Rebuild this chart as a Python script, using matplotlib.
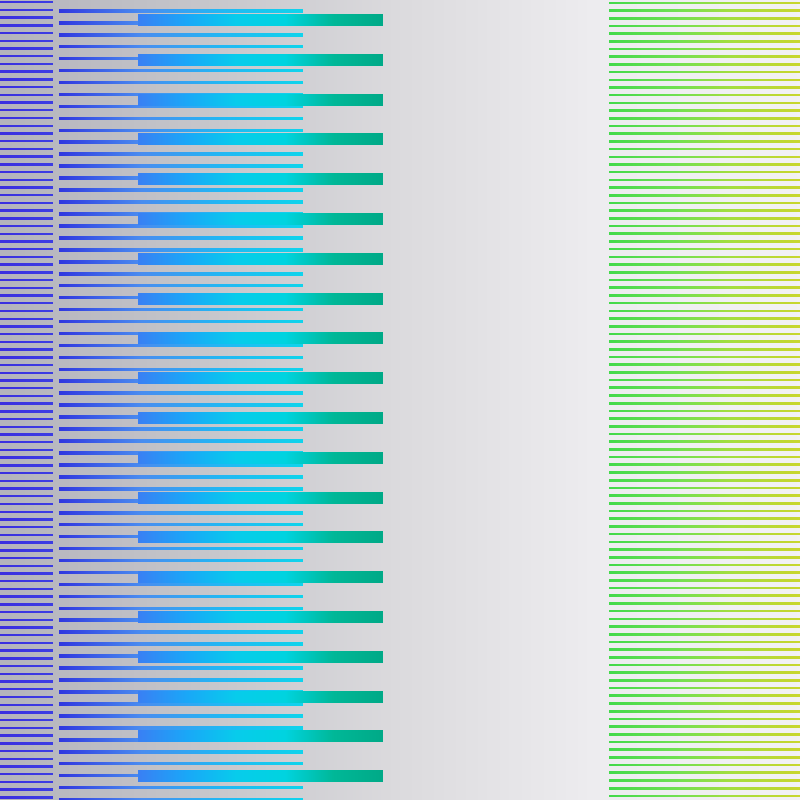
import numpy as np
import matplotlib
matplotlib.use('Agg')
import matplotlib.pyplot as plt
from matplotlib.colors import LinearSegmentedColormap
from matplotlib.path import Path
from matplotlib.patches import PathPatch

# ── layer definitions (pixel space, y down) ──────────────────────────────────
# thin dark-blue ticks on the far left
left_x0, left_x1 = 0, 53
left_y = list(np.arange(1.0, 800, 7.72))
left_h = 2.4
left_colors = ['#3a2fe0', '#3d3de4']

# medium blue→cyan bars
mid_x0, mid_x1 = 59, 303
mid_y = list(np.arange(9.0, 800, 11.95))
mid_h = 3.6
mid_colors = ['#3038e0', '#4a8cf0', '#22b8f4', '#10d4ec']

# thick bars overlapping to the right
wide_x0, wide_x1 = 138, 383
wide_y = list(np.arange(14.0, 790, 39.8))
wide_h = 12
wide_colors = ['#3a80f4', '#1aa8f8', '#08ccec', '#00d4e0', '#00b898', '#00aa88']

# green→yellow lines on the right
right_x0, right_x1 = 609, 800
right_y = list(np.arange(1.5, 800, 7.7))
right_h = 2.6
right_colors = ['#30d838', '#60e040', '#a0dc28', '#c4d418']

bg_colors = ['#b4b4bc', '#c6c6cb', '#dcdbde', '#eeedf0', '#f3f2f5']


def rect_path(x0, x1, ys, h):
    verts, codes = [], []
    for y in ys:
        verts += [(x0, y), (x1, y), (x1, y + h), (x0, y + h), (x0, y)]
        codes += [Path.MOVETO, Path.LINETO, Path.LINETO, Path.LINETO, Path.CLOSEPOLY]
    return Path(verts, codes)


def gradient_layer(ax, x0, x1, ys, h, colors, alpha=1.0):
    cmap = LinearSegmentedColormap.from_list('g', colors)
    grad = np.linspace(0, 1, 256).reshape(1, -1)
    im = ax.imshow(grad, cmap=cmap, extent=(x0, x1, 800, 0), aspect='auto',
                   interpolation='bilinear', alpha=alpha, zorder=2)
    patch = PathPatch(rect_path(x0, x1, ys, h), transform=ax.transData,
                      facecolor='none', edgecolor='none')
    ax.add_patch(patch)
    im.set_clip_path(patch)


fig = plt.figure(figsize=(8, 8), dpi=100)
ax = fig.add_axes([0, 0, 1, 1])
ax.set_xlim(0, 800)
ax.set_ylim(800, 0)
ax.axis('off')

bg = LinearSegmentedColormap.from_list('bg', bg_colors)
ax.imshow(np.linspace(0, 1, 256).reshape(1, -1), cmap=bg, extent=(0, 800, 800, 0),
          aspect='auto', zorder=0)

gradient_layer(ax, left_x0, left_x1, left_y, left_h, left_colors)
gradient_layer(ax, mid_x0, mid_x1, mid_y, mid_h, mid_colors)
gradient_layer(ax, wide_x0, wide_x1, wide_y, wide_h, wide_colors)
gradient_layer(ax, right_x0, right_x1, right_y, right_h, right_colors, alpha=0.9)

fig.savefig('out.png', dpi=100)
